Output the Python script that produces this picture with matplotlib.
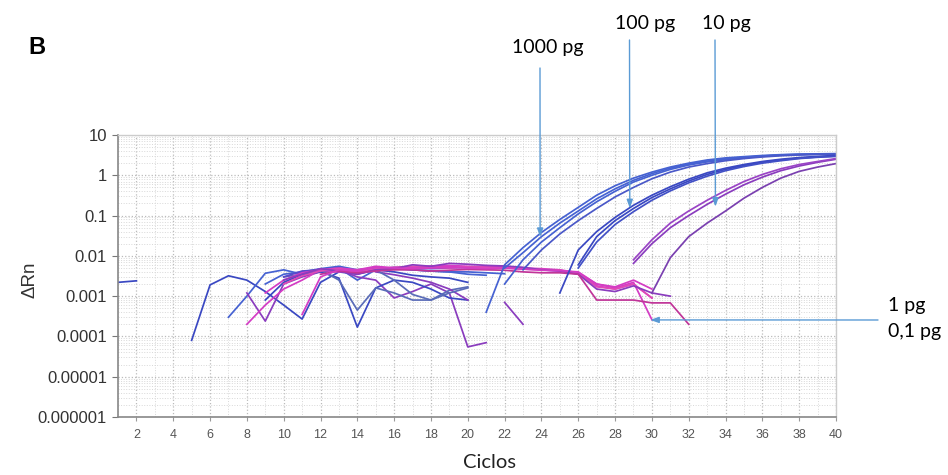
import matplotlib.pyplot as plt
import matplotlib
import numpy as np
from matplotlib.ticker import FixedLocator, LogLocator, NullFormatter

matplotlib.rcParams['font.family'] = ['Lato', 'DejaVu Sans']

# amplification curves: (first cycle, delta Rn values)
c1000_a = (21, [0.0004, 0.006, 0.016, 0.038, 0.08, 0.16, 0.32, 0.55, 0.85, 1.2, 1.6, 2.0,
                2.4, 2.7, 2.9, 3.1, 3.25, 3.35, 3.4, 3.45])
c1000_b = (22, [0.002, 0.008, 0.022, 0.05, 0.11, 0.22, 0.4, 0.68, 1.0, 1.4, 1.8, 2.15,
                2.45, 2.75, 2.95, 3.15, 3.25, 3.35, 3.4])
c1000_c = (22, [0.005, 0.012, 0.03, 0.065, 0.13, 0.26, 0.46, 0.75, 1.1, 1.5, 1.9, 2.25,
                2.55, 2.8, 3.0, 3.2, 3.3, 3.35, 3.4])
c1000_d = (23, [0.0045, 0.014, 0.035, 0.075, 0.15, 0.29, 0.5, 0.82, 1.2, 1.6, 1.95, 2.3,
                2.6, 2.85, 3.05, 3.2, 3.3, 3.35])
c100_a = (25, [0.0012, 0.014, 0.04, 0.09, 0.18, 0.32, 0.52, 0.8, 1.15, 1.5, 1.85, 2.2,
               2.5, 2.75, 2.95, 3.1])
c100_b = (26, [0.006, 0.03, 0.075, 0.15, 0.28, 0.46, 0.72, 1.05, 1.4, 1.75, 2.1, 2.4,
               2.65, 2.85, 3.0])
c100_c = (26, [0.005, 0.022, 0.06, 0.125, 0.24, 0.41, 0.65, 0.95, 1.3, 1.65, 2.0, 2.3,
               2.6, 2.8, 2.95])
c10_a = (29, [0.0065, 0.02, 0.05, 0.1, 0.19, 0.34, 0.58, 0.9, 1.3, 1.7, 2.1, 2.5])
c10_b = (29, [0.008, 0.025, 0.065, 0.13, 0.24, 0.42, 0.7, 1.05, 1.45, 1.85, 2.2, 2.6])
c1_a = (30, [0.0012, 0.009, 0.03, 0.065, 0.13, 0.27, 0.5, 0.85, 1.25, 1.6, 1.95])

# background / noise curves
n01 = (1, [0.0022, 0.0024])
n02 = (5, [0.00008, 0.0019, 0.0032, 0.0025, 0.0013, 0.0006, 0.00027, 0.0022, 0.004, 0.0035,
           0.0045, 0.004, 0.0033, 0.003, 0.0028, 0.0022])
n03 = (7, [0.0003, 0.001, 0.0037, 0.0045, 0.0035, 0.0045, 0.005, 0.0025, 0.0045, 0.005,
           0.0045, 0.0042, 0.004, 0.004, 0.0038, 0.0036])
n04 = (8, [0.0012, 0.00024, 0.002, 0.003, 0.004, 0.0045, 0.003, 0.0025, 0.0009, 0.0013,
           0.002, 0.0012, 0.000055, 0.00007])
n05 = (8, [0.0002, 0.0006, 0.0015, 0.0025, 0.0045, 0.004, 0.0045, 0.005, 0.0048, 0.005,
           0.0052, 0.0055, 0.005, 0.0048, 0.005, 0.0047, 0.0045, 0.0042, 0.0036, 0.0018,
           0.0015, 0.002, 0.0009])
n06 = (9, [0.0008, 0.0022, 0.0035, 0.004, 0.0028, 0.00017, 0.0016, 0.0025, 0.0022, 0.0015,
           0.0009, 0.0008])
n07 = (10, [0.003, 0.0035, 0.0045, 0.0025, 0.00045, 0.0016, 0.0012, 0.0008, 0.0008, 0.0014,
            0.0017])
n08 = (22, [0.0007, 0.0002])
n09 = (15, [0.004, 0.0034, 0.0028, 0.0022, 0.0015, 0.0008])
n10 = (15, [0.0045, 0.0025, 0.0011, 0.0008, 0.0012, 0.0016])
band_a = (9, [0.0012, 0.0025, 0.0038, 0.0045, 0.005, 0.0045, 0.0055, 0.005, 0.0052, 0.0056,
              0.0058, 0.0055, 0.0054, 0.0055, 0.005, 0.0048, 0.0045, 0.0038, 0.002, 0.0016,
              0.0022, 0.00026])
band_b = (10, [0.002, 0.0032, 0.0042, 0.0048, 0.004, 0.0048, 0.0052, 0.0055, 0.0052, 0.005,
               0.0053, 0.0052, 0.005, 0.0048, 0.0046, 0.0044, 0.0036, 0.0017, 0.0015, 0.002,
               0.0009])
band_c = (10, [0.0025, 0.0035, 0.0048, 0.0042, 0.0035, 0.0045, 0.0048, 0.006, 0.0055, 0.0065,
               0.0062, 0.0058, 0.0056, 0.0052, 0.0045, 0.0042, 0.0035, 0.0015, 0.0013, 0.0018,
               0.0012, 0.001])
band_d = (12, [0.0035, 0.0042, 0.0038, 0.0042, 0.0045, 0.0045, 0.0042, 0.0044, 0.0046, 0.0045,
               0.0044, 0.004, 0.0038, 0.0038, 0.0035, 0.0008, 0.0008, 0.0008, 0.00068, 0.00068,
               0.0002])
band_e = (10, [0.003, 0.0042, 0.0045, 0.005, 0.0042, 0.0046, 0.0052, 0.005, 0.0048, 0.005,
               0.0052, 0.005, 0.005])
band_f = (11, [0.00035, 0.003, 0.0045, 0.0042, 0.0052, 0.005, 0.0048, 0.005, 0.0052, 0.005,
               0.0048, 0.005, 0.0047, 0.0044, 0.0043, 0.004, 0.002, 0.0017, 0.0025, 0.0015])
band_g = (9, [0.002, 0.0035, 0.004, 0.0048, 0.0055, 0.0045, 0.005, 0.0048, 0.0045, 0.0042,
              0.004, 0.0035, 0.0033])

xticks = list(range(2, 41, 2))
yticks = [1e-6, 1e-5, 1e-4, 1e-3, 1e-2, 1e-1, 1, 10]
ylabels = ['0.000001', '0.00001', '0.0001', '0.001', '0.01', '0.1', '1', '10']

blue1 = '#4662d2'
blue2 = '#3a48c2'
violet = '#5a48cc'
purple = '#8a3cbe'
purple2 = '#7a40b0'
magenta = '#d43cc4'
pink = '#e04ab6'
magenta2 = '#c03498'

curves = [
    (n01, blue2), (n02, blue2), (n03, blue1), (n04, purple), (n05, magenta),
    (n06, blue2), (n07, '#5a6cb8'), (n08, purple), (n09, purple), (n10, '#5a6cb8'),
    (band_g, blue1), (band_e, violet), (band_a, magenta), (band_b, pink),
    (band_c, purple), (band_d, magenta2), (band_f, magenta),
    (c1000_a, blue1), (c1000_b, blue1), (c1000_c, blue1), (c1000_d, '#4a58c8'),
    (c100_a, blue2), (c100_b, blue2), (c100_c, '#4250c6'),
    (c10_a, purple), (c10_b, '#9a44c6'), (c1_a, purple2),
]

fig = plt.figure(figsize=(9.48, 4.75), dpi=100)
ax = fig.add_axes([118 / 948, 1 - 417 / 475, (836 - 118) / 948, (417 - 135) / 475])

for (start, vals), col in curves:
    cyc = np.arange(start, start + len(vals))
    ax.plot(cyc, vals, color=col, lw=1.25)

ax.set_yscale('log')
ax.set_xlim(1, 40)
ax.set_ylim(1e-6, 10)
ax.set_xticks(xticks)
ax.set_xticklabels([str(t) for t in xticks], fontsize=9, color='#555555',
                   family=['Liberation Sans', 'DejaVu Sans'])
ax.xaxis.set_minor_locator(FixedLocator(list(range(1, 41, 2))))
ax.set_yticks(yticks)
ax.set_yticklabels(ylabels, fontsize=12, color='#333333',
                   family=['Liberation Sans', 'DejaVu Sans'])
ax.yaxis.set_minor_locator(LogLocator(base=10, subs=np.arange(2, 10)))
ax.yaxis.set_minor_formatter(NullFormatter())
ax.tick_params(axis='both', which='minor', length=0)
ax.tick_params(axis='x', which='major', length=3, color='#999999', pad=6)
ax.tick_params(axis='y', which='major', length=4, color='#777777', pad=4)

ax.grid(True, which='major', linestyle=':', color='#bbbbbb', lw=0.9)
ax.grid(True, which='minor', linestyle=':', color='#d8d8d8', lw=0.7)
ax.set_axisbelow(True)
for s in ['left', 'bottom']:
    ax.spines[s].set_color('#888888')
    ax.spines[s].set_linewidth(1.2)
for s in ['top', 'right']:
    ax.spines[s].set_color('#cccccc')
    ax.spines[s].set_linewidth(1.0)

fig.text(30 / 948, 1 - 280 / 475, 'ΔRn', rotation=90, ha='center', va='center',
         fontsize=13.5, color='#333333', family=['Liberation Sans', 'DejaVu Sans'])
fig.text(490 / 948, 1 - 462 / 475, 'Ciclos', ha='center', va='center', fontsize=14.5,
         color='#222222')
fig.text(37 / 948, 1 - 48 / 475, 'B', ha='center', va='center', fontsize=17,
         fontweight='bold', family=['Liberation Sans', 'DejaVu Sans'])

arrow_col = '#5b9bd5'
aprops = dict(arrowstyle='-|>,head_length=0.5,head_width=0.18', color=arrow_col, lw=1.0,
              shrinkA=0, shrinkB=0)
ax.annotate('', xy=(23.93, 0.0294), xytext=(540, 475 - 68), textcoords='figure pixels',
            arrowprops=aprops, annotation_clip=False)
ax.annotate('', xy=(28.8, 0.152), xytext=(629.5, 475 - 40), textcoords='figure pixels',
            arrowprops=aprops, annotation_clip=False)
ax.annotate('', xy=(33.45, 0.166), xytext=(715, 475 - 40), textcoords='figure pixels',
            arrowprops=aprops, annotation_clip=False)
ax.annotate('', xy=(29.91, 0.000257), xytext=(878, 475 - 320), textcoords='figure pixels',
            arrowprops=aprops, annotation_clip=False)

fig.text(548 / 948, 1 - 48 / 475, '1000 pg', ha='center', va='center', fontsize=14)
fig.text(645 / 948, 1 - 23 / 475, '100 pg', ha='center', va='center', fontsize=14)
fig.text(726 / 948, 1 - 23 / 475, '10 pg', ha='center', va='center', fontsize=14)
fig.text(888 / 948, 1 - 305 / 475, '1 pg', ha='left', va='center', fontsize=14)
fig.text(888 / 948, 1 - 331 / 475, '0,1 pg', ha='left', va='center', fontsize=14)

plt.savefig('out.png', dpi=100)
